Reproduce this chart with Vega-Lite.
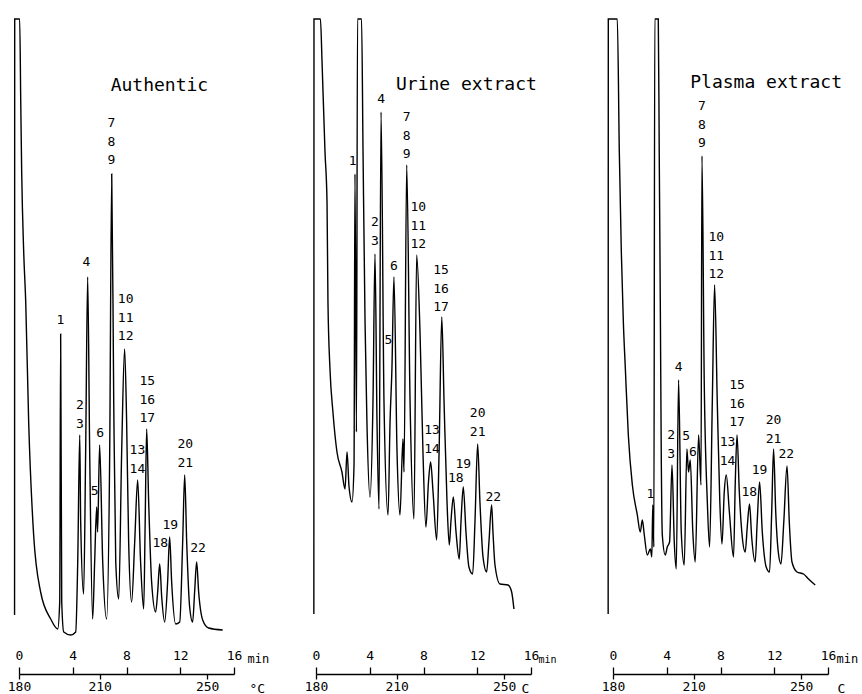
{
  "$schema": "https://vega.github.io/schema/vega-lite/v6.json",
  "background": "white",
  "padding": {"left": 7, "top": 16, "right": 5, "bottom": 2},
  "config": {"view": {"stroke": null}, "font": "DejaVu Sans Mono"},
  "spacing": 82,
  "bounds": "flush",
  "datasets": {
    "authentic": [
      {"t": -0.33, "r": 27}, {"t": -0.32, "r": 623}, {"t": 0.05, "r": 623}, {"t": 0.13, "r": 540},
      {"t": 0.2, "r": 470}, {"t": 0.35, "r": 390}, {"t": 0.5, "r": 340}, {"t": 0.72, "r": 220},
      {"t": 1.09, "r": 107}, {"t": 1.61, "r": 50}, {"t": 2.36, "r": 23}, {"t": 2.88, "r": 13},
      {"t": 3.03, "r": 40}, {"t": 3.1, "r": 308}, {"t": 3.18, "r": 40}, {"t": 3.33, "r": 10},
      {"t": 3.85, "r": 7}, {"t": 4.22, "r": 10}, {"t": 4.37, "r": 80}, {"t": 4.52, "r": 207},
      {"t": 4.59, "r": 120}, {"t": 4.81, "r": 48}, {"t": 4.96, "r": 190}, {"t": 5.11, "r": 365},
      {"t": 5.26, "r": 190}, {"t": 5.48, "r": 23}, {"t": 5.63, "r": 80}, {"t": 5.78, "r": 135},
      {"t": 5.85, "r": 110}, {"t": 6.0, "r": 197}, {"t": 6.23, "r": 80}, {"t": 6.52, "r": 23},
      {"t": 6.75, "r": 190}, {"t": 6.9, "r": 468}, {"t": 7.05, "r": 240}, {"t": 7.2, "r": 80},
      {"t": 7.42, "r": 43}, {"t": 7.64, "r": 190}, {"t": 7.86, "r": 293}, {"t": 8.01, "r": 220},
      {"t": 8.16, "r": 100}, {"t": 8.38, "r": 40}, {"t": 8.61, "r": 100}, {"t": 8.83, "r": 162},
      {"t": 9.05, "r": 80}, {"t": 9.28, "r": 33}, {"t": 9.39, "r": 120}, {"t": 9.5, "r": 213},
      {"t": 9.65, "r": 140}, {"t": 9.87, "r": 60}, {"t": 10.17, "r": 30}, {"t": 10.32, "r": 50},
      {"t": 10.47, "r": 78}, {"t": 10.62, "r": 45}, {"t": 10.84, "r": 20}, {"t": 11.06, "r": 60},
      {"t": 11.21, "r": 105}, {"t": 11.36, "r": 60}, {"t": 11.66, "r": 18}, {"t": 11.96, "r": 20},
      {"t": 12.18, "r": 100}, {"t": 12.33, "r": 167}, {"t": 12.48, "r": 100}, {"t": 12.7, "r": 35},
      {"t": 12.92, "r": 20}, {"t": 13.07, "r": 50}, {"t": 13.22, "r": 80}, {"t": 13.37, "r": 50},
      {"t": 13.67, "r": 22}, {"t": 14.11, "r": 14}, {"t": 15.16, "r": 12}
    ],
    "urine": [
      {"t": -0.16, "r": 28}, {"t": -0.15, "r": 623}, {"t": 0.33, "r": 623}, {"t": 0.45, "r": 580},
      {"t": 0.67, "r": 490}, {"t": 0.82, "r": 440}, {"t": 0.89, "r": 340}, {"t": 1.04, "r": 273},
      {"t": 1.26, "r": 230}, {"t": 1.56, "r": 190}, {"t": 1.93, "r": 170}, {"t": 2.16, "r": 153},
      {"t": 2.31, "r": 190}, {"t": 2.46, "r": 155}, {"t": 2.68, "r": 140}, {"t": 2.83, "r": 177},
      {"t": 2.9, "r": 468}, {"t": 3.01, "r": 210}, {"t": 3.09, "r": 623}, {"t": 3.39, "r": 623},
      {"t": 3.5, "r": 490}, {"t": 3.65, "r": 320}, {"t": 3.79, "r": 220}, {"t": 4.02, "r": 145},
      {"t": 4.24, "r": 240}, {"t": 4.39, "r": 388}, {"t": 4.54, "r": 220}, {"t": 4.69, "r": 133},
      {"t": 4.84, "r": 530}, {"t": 5.06, "r": 240}, {"t": 5.36, "r": 127}, {"t": 5.51, "r": 220},
      {"t": 5.65, "r": 273}, {"t": 5.8, "r": 365}, {"t": 6.03, "r": 190}, {"t": 6.25, "r": 127},
      {"t": 6.47, "r": 203}, {"t": 6.55, "r": 170}, {"t": 6.75, "r": 477}, {"t": 7.0, "r": 240},
      {"t": 7.29, "r": 123}, {"t": 7.49, "r": 387}, {"t": 7.74, "r": 310}, {"t": 7.96, "r": 190},
      {"t": 8.18, "r": 115}, {"t": 8.37, "r": 160}, {"t": 8.53, "r": 180}, {"t": 8.71, "r": 150},
      {"t": 8.98, "r": 102}, {"t": 9.16, "r": 190}, {"t": 9.36, "r": 325}, {"t": 9.53, "r": 240},
      {"t": 9.75, "r": 140}, {"t": 9.92, "r": 97}, {"t": 10.04, "r": 120}, {"t": 10.22, "r": 145},
      {"t": 10.42, "r": 110}, {"t": 10.66, "r": 83}, {"t": 10.79, "r": 120}, {"t": 10.96, "r": 155},
      {"t": 11.16, "r": 110}, {"t": 11.38, "r": 75}, {"t": 11.66, "r": 68}, {"t": 11.83, "r": 120},
      {"t": 12.03, "r": 198}, {"t": 12.2, "r": 140}, {"t": 12.43, "r": 85}, {"t": 12.7, "r": 70},
      {"t": 12.87, "r": 100}, {"t": 13.07, "r": 137}, {"t": 13.17, "r": 110}, {"t": 13.32, "r": 77},
      {"t": 13.69, "r": 58}, {"t": 14.29, "r": 57}, {"t": 14.56, "r": 50}, {"t": 14.73, "r": 33}
    ],
    "plasma": [
      {"t": -0.36, "r": 28}, {"t": -0.35, "r": 623}, {"t": 0.32, "r": 623}, {"t": 0.47, "r": 490},
      {"t": 0.62, "r": 390}, {"t": 0.77, "r": 320}, {"t": 0.92, "r": 273}, {"t": 1.14, "r": 207},
      {"t": 1.44, "r": 157}, {"t": 1.81, "r": 127}, {"t": 2.03, "r": 110}, {"t": 2.18, "r": 122},
      {"t": 2.33, "r": 107}, {"t": 2.55, "r": 87}, {"t": 2.78, "r": 93}, {"t": 2.89, "r": 85},
      {"t": 2.96, "r": 137}, {"t": 3.04, "r": 95}, {"t": 3.11, "r": 623}, {"t": 3.37, "r": 623},
      {"t": 3.44, "r": 490}, {"t": 3.52, "r": 340}, {"t": 3.59, "r": 190}, {"t": 3.67, "r": 107},
      {"t": 3.89, "r": 87}, {"t": 4.04, "r": 95}, {"t": 4.21, "r": 100}, {"t": 4.39, "r": 177},
      {"t": 4.56, "r": 100}, {"t": 4.71, "r": 73}, {"t": 4.88, "r": 262}, {"t": 5.08, "r": 110},
      {"t": 5.3, "r": 77}, {"t": 5.5, "r": 193}, {"t": 5.62, "r": 170}, {"t": 5.75, "r": 182},
      {"t": 5.94, "r": 110}, {"t": 6.12, "r": 80}, {"t": 6.37, "r": 207}, {"t": 6.55, "r": 157},
      {"t": 6.62, "r": 486}, {"t": 6.79, "r": 260}, {"t": 7.02, "r": 140}, {"t": 7.19, "r": 95},
      {"t": 7.39, "r": 240}, {"t": 7.56, "r": 357}, {"t": 7.76, "r": 240}, {"t": 7.95, "r": 140},
      {"t": 8.11, "r": 98}, {"t": 8.28, "r": 150}, {"t": 8.43, "r": 167}, {"t": 8.66, "r": 130},
      {"t": 8.97, "r": 85}, {"t": 9.1, "r": 160}, {"t": 9.23, "r": 207}, {"t": 9.4, "r": 150},
      {"t": 9.62, "r": 105}, {"t": 9.84, "r": 90}, {"t": 9.99, "r": 115}, {"t": 10.16, "r": 138},
      {"t": 10.32, "r": 105}, {"t": 10.58, "r": 80}, {"t": 10.73, "r": 120}, {"t": 10.91, "r": 160},
      {"t": 11.11, "r": 110}, {"t": 11.4, "r": 75}, {"t": 11.65, "r": 70}, {"t": 11.81, "r": 130},
      {"t": 11.95, "r": 193}, {"t": 12.11, "r": 130}, {"t": 12.3, "r": 90}, {"t": 12.5, "r": 78},
      {"t": 12.71, "r": 120}, {"t": 12.95, "r": 176}, {"t": 13.12, "r": 120}, {"t": 13.32, "r": 80},
      {"t": 13.69, "r": 70}, {"t": 14.18, "r": 68}, {"t": 14.55, "r": 63}, {"t": 15.05, "r": 57}
    ],
    "labels": [
      {"sample": "Authentic", "label": "1", "t": 3.08, "r": 315},
      {"sample": "Authentic", "label": "2\n3", "t": 4.54, "r": 230},
      {"sample": "Authentic", "label": "4", "t": 5.01, "r": 373},
      {"sample": "Authentic", "label": "5", "t": 5.63, "r": 144},
      {"sample": "Authentic", "label": "6", "t": 6.04, "r": 202},
      {"sample": "Authentic", "label": "7\n8\n9", "t": 6.88, "r": 512},
      {"sample": "Authentic", "label": "10\n11\n12", "t": 7.94, "r": 336},
      {"sample": "Authentic", "label": "13\n14", "t": 8.81, "r": 185},
      {"sample": "Authentic", "label": "15\n16\n17", "t": 9.55, "r": 254},
      {"sample": "Authentic", "label": "18", "t": 10.52, "r": 92},
      {"sample": "Authentic", "label": "19", "t": 11.26, "r": 110},
      {"sample": "Authentic", "label": "20\n21", "t": 12.38, "r": 191},
      {"sample": "Authentic", "label": "22", "t": 13.33, "r": 87},
      {"sample": "Urine", "label": "1", "t": 2.73, "r": 474},
      {"sample": "Urine", "label": "2\n3", "t": 4.39, "r": 413},
      {"sample": "Urine", "label": "4", "t": 4.84, "r": 536},
      {"sample": "Urine", "label": "5", "t": 5.38, "r": 295},
      {"sample": "Urine", "label": "6", "t": 5.8, "r": 369},
      {"sample": "Urine", "label": "7\n8\n9", "t": 6.75, "r": 518},
      {"sample": "Urine", "label": "10\n11\n12", "t": 7.61, "r": 428},
      {"sample": "Urine", "label": "13\n14", "t": 8.63, "r": 205},
      {"sample": "Urine", "label": "15\n16\n17", "t": 9.31, "r": 365},
      {"sample": "Urine", "label": "18", "t": 10.4, "r": 157},
      {"sample": "Urine", "label": "19", "t": 10.96, "r": 171},
      {"sample": "Urine", "label": "20\n21", "t": 12.03, "r": 222},
      {"sample": "Urine", "label": "22", "t": 13.19, "r": 138},
      {"sample": "Plasma", "label": "1", "t": 2.78, "r": 141},
      {"sample": "Plasma", "label": "2\n3", "t": 4.32, "r": 200},
      {"sample": "Plasma", "label": "4", "t": 4.88, "r": 268},
      {"sample": "Plasma", "label": "5", "t": 5.45, "r": 199},
      {"sample": "Plasma", "label": "6", "t": 5.95, "r": 183},
      {"sample": "Plasma", "label": "7\n8\n9", "t": 6.62, "r": 529},
      {"sample": "Plasma", "label": "10\n11\n12", "t": 7.69, "r": 398},
      {"sample": "Plasma", "label": "13\n14", "t": 8.53, "r": 193},
      {"sample": "Plasma", "label": "15\n16\n17", "t": 9.23, "r": 250},
      {"sample": "Plasma", "label": "18", "t": 10.14, "r": 143},
      {"sample": "Plasma", "label": "19", "t": 10.91, "r": 165},
      {"sample": "Plasma", "label": "20\n21", "t": 11.95, "r": 215},
      {"sample": "Plasma", "label": "22", "t": 12.9, "r": 181}
    ],
    "titles": [
      {"sample": "Authentic", "title": "Authentic", "t": 6.82, "r": 551},
      {"sample": "Urine", "title": "Urine extract", "t": 5.95, "r": 552},
      {"sample": "Plasma", "title": "Plasma extract", "t": 5.75, "r": 554}
    ],
    "temps": [{"temp": 180}, {"temp": 210}, {"temp": 250}]
  },
  "hconcat": [
    {
      "width": 215, "height": 623,
      "layer": [
        {"layer": [
          {"data": {"name": "authentic"},
           "mark": {"type": "line", "color": "black", "strokeWidth": 1.4, "interpolate": "monotone"},
           "encoding": {
             "x": {"field": "t", "type": "quantitative", "scale": {"domain": [0, 16], "nice": false, "zero": false},
                   "axis": {"orient": "bottom", "offset": 32, "values": [0, 4, 8, 12, 16], "format": "d", "grid": false,
                            "tickSize": -7, "labelPadding": -5, "labelBaseline": "bottom", "labelFlush": false, "labelOverlap": false,
                            "labelFont": "DejaVu Sans Mono", "labelFontSize": 13, "labelColor": "black",
                            "domainColor": "black", "tickColor": "black", "domainWidth": 1.3, "tickWidth": 1.3,
                            "title": "min", "titleFont": "DejaVu Sans Mono", "titleFontSize": 12, "titleFontWeight": "normal", "titleColor": "black",
                            "titleX": 228, "titleY": -12, "titleAlign": "left", "titleBaseline": "alphabetic", "titleAngle": 0}},
             "y": {"field": "r", "type": "quantitative", "scale": {"domain": [0, 623], "nice": false}, "axis": null}
           }},
          {"data": {"name": "labels"}, "transform": [{"filter": "datum.sample === 'Authentic'"}],
           "mark": {"type": "text", "baseline": "bottom", "align": "center", "lineBreak": "\n", "lineHeight": 18.5, "font": "DejaVu Sans Mono", "fontSize": 13, "color": "black"},
           "encoding": {"x": {"field": "t", "type": "quantitative"}, "y": {"field": "r", "type": "quantitative"}, "text": {"field": "label"}}},
          {"data": {"name": "titles"}, "transform": [{"filter": "datum.sample === 'Authentic'"}],
           "mark": {"type": "text", "baseline": "alphabetic", "align": "left", "font": "DejaVu Sans Mono", "fontSize": 18, "color": "black"},
           "encoding": {"x": {"field": "t", "type": "quantitative"}, "y": {"field": "r", "type": "quantitative"}, "text": {"field": "title"}}}
        ]},
        {"data": {"name": "temps"},
         "mark": {"type": "point", "opacity": 0},
         "encoding": {
           "x": {"field": "temp", "type": "quantitative", "scale": {"domain": [180, 260], "nice": false, "zero": false},
                 "axis": {"orient": "bottom", "offset": 32, "values": [180, 210, 250], "format": "d", "grid": false, "domain": false,
                          "tickSize": 5, "labelPadding": 1, "labelFlush": false, "labelOverlap": false,
                          "labelFont": "DejaVu Sans Mono", "labelFontSize": 13, "labelColor": "black",
                          "tickColor": "black", "tickWidth": 1.3,
                          "title": "°C", "titleFont": "DejaVu Sans Mono", "titleFontSize": 13, "titleFontWeight": "normal", "titleColor": "black",
                          "titleX": 230, "titleY": 18, "titleAlign": "left", "titleBaseline": "alphabetic", "titleAngle": 0}}
         }}
      ],
      "resolve": {"scale": {"x": "independent"}, "axis": {"x": "independent"}}
    },
    {
      "width": 215, "height": 623,
      "layer": [
        {"layer": [
          {"data": {"name": "urine"},
           "mark": {"type": "line", "color": "black", "strokeWidth": 1.4, "interpolate": "monotone"},
           "encoding": {
             "x": {"field": "t", "type": "quantitative", "scale": {"domain": [0, 16], "nice": false, "zero": false},
                   "axis": {"orient": "bottom", "offset": 32, "values": [0, 4, 8, 12, 16], "format": "d", "grid": false,
                            "tickSize": -7, "labelPadding": -5, "labelBaseline": "bottom", "labelFlush": false, "labelOverlap": false,
                            "labelFont": "DejaVu Sans Mono", "labelFontSize": 13, "labelColor": "black",
                            "domainColor": "black", "tickColor": "black", "domainWidth": 1.3, "tickWidth": 1.3,
                            "title": "min", "titleFont": "DejaVu Sans Mono", "titleFontSize": 10, "titleFontWeight": "normal", "titleColor": "black",
                            "titleX": 222, "titleY": -12, "titleAlign": "left", "titleBaseline": "alphabetic", "titleAngle": 0}},
             "y": {"field": "r", "type": "quantitative", "scale": {"domain": [0, 623], "nice": false}, "axis": null}
           }},
          {"data": {"name": "labels"}, "transform": [{"filter": "datum.sample === 'Urine'"}],
           "mark": {"type": "text", "baseline": "bottom", "align": "center", "lineBreak": "\n", "lineHeight": 18.5, "font": "DejaVu Sans Mono", "fontSize": 13, "color": "black"},
           "encoding": {"x": {"field": "t", "type": "quantitative"}, "y": {"field": "r", "type": "quantitative"}, "text": {"field": "label"}}},
          {"data": {"name": "titles"}, "transform": [{"filter": "datum.sample === 'Urine'"}],
           "mark": {"type": "text", "baseline": "alphabetic", "align": "left", "font": "DejaVu Sans Mono", "fontSize": 18, "color": "black"},
           "encoding": {"x": {"field": "t", "type": "quantitative"}, "y": {"field": "r", "type": "quantitative"}, "text": {"field": "title"}}}
        ]},
        {"data": {"name": "temps"},
         "mark": {"type": "point", "opacity": 0},
         "encoding": {
           "x": {"field": "temp", "type": "quantitative", "scale": {"domain": [180, 260], "nice": false, "zero": false},
                 "axis": {"orient": "bottom", "offset": 32, "values": [180, 210, 250], "format": "d", "grid": false, "domain": false,
                          "tickSize": 5, "labelPadding": 1, "labelFlush": false, "labelOverlap": false,
                          "labelFont": "DejaVu Sans Mono", "labelFontSize": 13, "labelColor": "black",
                          "tickColor": "black", "tickWidth": 1.3,
                          "title": "C", "titleFont": "DejaVu Sans Mono", "titleFontSize": 13, "titleFontWeight": "normal", "titleColor": "black",
                          "titleX": 205, "titleY": 18, "titleAlign": "left", "titleBaseline": "alphabetic", "titleAngle": 0}}
         }}
      ],
      "resolve": {"scale": {"x": "independent"}, "axis": {"x": "independent"}}
    },
    {
      "width": 215, "height": 623,
      "layer": [
        {"layer": [
          {"data": {"name": "plasma"},
           "mark": {"type": "line", "color": "black", "strokeWidth": 1.4, "interpolate": "monotone"},
           "encoding": {
             "x": {"field": "t", "type": "quantitative", "scale": {"domain": [0, 16], "nice": false, "zero": false},
                   "axis": {"orient": "bottom", "offset": 32, "values": [0, 4, 8, 12, 16], "format": "d", "grid": false,
                            "tickSize": -7, "labelPadding": -5, "labelBaseline": "bottom", "labelFlush": false, "labelOverlap": false,
                            "labelFont": "DejaVu Sans Mono", "labelFontSize": 13, "labelColor": "black",
                            "domainColor": "black", "tickColor": "black", "domainWidth": 1.3, "tickWidth": 1.3,
                            "title": "min", "titleFont": "DejaVu Sans Mono", "titleFontSize": 12, "titleFontWeight": "normal", "titleColor": "black",
                            "titleX": 223, "titleY": -12, "titleAlign": "left", "titleBaseline": "alphabetic", "titleAngle": 0}},
             "y": {"field": "r", "type": "quantitative", "scale": {"domain": [0, 623], "nice": false}, "axis": null}
           }},
          {"data": {"name": "labels"}, "transform": [{"filter": "datum.sample === 'Plasma'"}],
           "mark": {"type": "text", "baseline": "bottom", "align": "center", "lineBreak": "\n", "lineHeight": 18.5, "font": "DejaVu Sans Mono", "fontSize": 13, "color": "black"},
           "encoding": {"x": {"field": "t", "type": "quantitative"}, "y": {"field": "r", "type": "quantitative"}, "text": {"field": "label"}}},
          {"data": {"name": "titles"}, "transform": [{"filter": "datum.sample === 'Plasma'"}],
           "mark": {"type": "text", "baseline": "alphabetic", "align": "left", "font": "DejaVu Sans Mono", "fontSize": 18, "color": "black"},
           "encoding": {"x": {"field": "t", "type": "quantitative"}, "y": {"field": "r", "type": "quantitative"}, "text": {"field": "title"}}}
        ]},
        {"data": {"name": "temps"},
         "mark": {"type": "point", "opacity": 0},
         "encoding": {
           "x": {"field": "temp", "type": "quantitative", "scale": {"domain": [180, 260], "nice": false, "zero": false},
                 "axis": {"orient": "bottom", "offset": 32, "values": [180, 210, 250], "format": "d", "grid": false, "domain": false,
                          "tickSize": 5, "labelPadding": 1, "labelFlush": false, "labelOverlap": false,
                          "labelFont": "DejaVu Sans Mono", "labelFontSize": 13, "labelColor": "black",
                          "tickColor": "black", "tickWidth": 1.3,
                          "title": "C", "titleFont": "DejaVu Sans Mono", "titleFontSize": 13, "titleFontWeight": "normal", "titleColor": "black",
                          "titleX": 224, "titleY": 18, "titleAlign": "left", "titleBaseline": "alphabetic", "titleAngle": 0}}
         }}
      ],
      "resolve": {"scale": {"x": "independent"}, "axis": {"x": "independent"}}
    }
  ]
}
